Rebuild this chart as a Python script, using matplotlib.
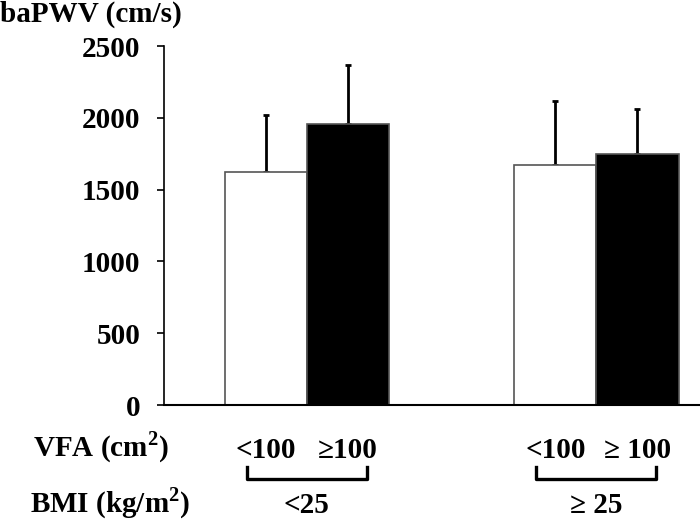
import matplotlib
matplotlib.use("Agg")
import matplotlib.pyplot as plt
import matplotlib.transforms as mtransforms
import numpy as np

# data
vfa_labels = ["<100", "\u2265100", "<100", "\u2265 100"]
bmi_labels = ["<25", "\u2265 25"]
means = [1620, 1960, 1675, 1745]
sds = [400, 405, 440, 320]
positions = [0.0, 1.0, 3.52, 4.52]
colors = ["white", "black", "white", "black"]
yticks = [0, 500, 1000, 1500, 2000, 2500]

plt.rcParams["font.family"] = ["Liberation Serif", "DejaVu Serif"]
plt.rcParams["mathtext.fontset"] = "custom"
plt.rcParams["mathtext.rm"] = "Liberation Serif:bold"
plt.rcParams["mathtext.bf"] = "Liberation Serif:bold"

FS = 21

fig = plt.figure(figsize=(7.0, 5.21), dpi=100)
ax = fig.add_axes([0.234, 0.2226, 0.766, 0.689])

ax.bar(positions, means, width=1.0, color=colors, edgecolor="#555555",
       linewidth=1.2, zorder=2)
ax.errorbar(positions, means, yerr=[np.zeros(len(sds)), sds], fmt="none",
            ecolor="black", elinewidth=2, capsize=2, capthick=2, zorder=1)

ax.set_ylim(0, 2500)
ax.set_xlim(-1.24, 5.28)
ax.set_yticks(yticks)
ax.set_yticklabels([str(t) for t in yticks], fontsize=FS, fontweight="bold")
ax.tick_params(axis="y", direction="out", length=5, width=1.2, pad=12)
ax.set_xticks([])
for side in ["top", "right"]:
    ax.spines[side].set_visible(False)
ax.spines["left"].set_linewidth(1.2)
ax.spines["bottom"].set_linewidth(1.5)

fig.text(0.0, 1 - 22 / 521, "baPWV (cm/s)", fontsize=FS, fontweight="bold",
         ha="left", va="baseline")

trans = mtransforms.blended_transform_factory(ax.transData, ax.transAxes)
for x, lab in zip(positions, vfa_labels):
    ax.text(x, -0.1476, lab, transform=trans, fontsize=FS, fontweight="bold",
            ha="center", va="baseline", clip_on=False)

groups = [(positions[0], positions[1]), (positions[2], positions[3])]
for (x0, x1), lab in zip(groups, bmi_labels):
    ax.plot([x0 - 0.23, x0 - 0.23, x1 + 0.23, x1 + 0.23],
            [-0.172, -0.206, -0.206, -0.172], color="black", lw=2.4,
            transform=trans, clip_on=False)
    ax.text((x0 + x1) / 2, -0.3008, lab, transform=trans, fontsize=FS,
            fontweight="bold", ha="center", va="baseline", clip_on=False)

fig.text(101 / 700, 1 - 456 / 521, r"VFA (cm$^{\mathbf{2}}$)", fontsize=FS,
         fontweight="bold", ha="center", va="baseline")
fig.text(110 / 700, 1 - 512 / 521, r"BMI (kg/m$^{\mathbf{2}}$)", fontsize=FS,
         fontweight="bold", ha="center", va="baseline")

fig.savefig("out.png", dpi=100)
